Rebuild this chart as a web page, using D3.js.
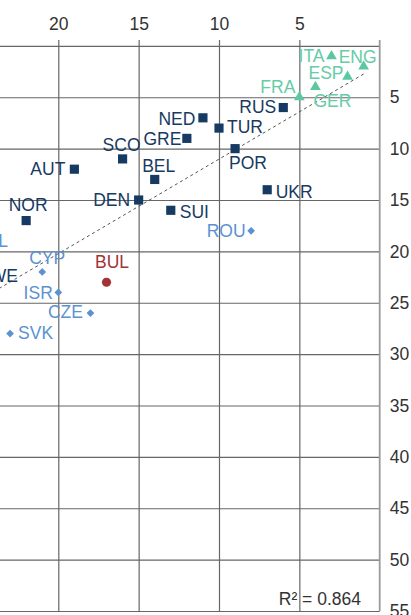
<!DOCTYPE html>
<html>
<head>
<meta charset="utf-8">
<script src="https://cdn.jsdelivr.net/npm/d3@7"></script>
<style>
  html, body { margin: 0; padding: 0; background: #fff; }
  svg { display: block; font-family: "Liberation Sans", Arial, Helvetica, sans-serif; }
</style>
</head>
<body>
<svg id="chart" width="411" height="615"></svg>
<script>
// Country codes, the two rankings, and which group each one belongs to
const codes  = ["ITA","ENG","ESP","GER","FRA","RUS","NED","TUR","GRE","POR","SCO","AUT","BEL","UKR","DEN","SUI","NOR","SWE","POL","ROU","CYP","BUL","ISR","CZE","SVK"];
const xRank  = [3, 1, 2, 4, 5, 6, 11, 10, 12, 9, 16, 19, 14, 7, 15, 13, 22, 24, 26, 8, 21, 17, 20, 18, 23];
const yRank  = [1, 2, 3, 4, 5, 6, 7, 8, 9, 10, 11, 12, 13, 14, 15, 16, 17, 21, 19, 18, 22, 23, 24, 26, 28];
const groups = ["top","top","top","top","top","mid","mid","mid","mid","mid","mid","mid","mid","mid","mid","mid","mid","mid","low","low","low","bul","low","low","low"];

// Axis ticks
const xTicks = [5, 10, 15, 20];
const yTicks = [0, 5, 10, 15, 20, 25, 30, 35, 40, 45, 50, 55];

// Fitted trend line: y = slope * x + intercept, over the ranked range
const trendSlope = 0.92;
const trendIntercept = 1.82;
const trendRange = [1, 30];
const rSquared = "0.864";

// Label placement: [dx, dy, anchor] relative to the marker centre
const labelPlace = {
  ITA: [-7, 0, "end"],   ENG: [-6, -10, "middle"], ESP: [-4, -4, "end"],
  GER: [-2, 14, "start"], FRA: [-4, -11, "end"],   RUS: [-7, -1, "end"],
  NED: [-7.5, 1, "end"], TUR: [8, -1, "start"],    GRE: [-5.5, 0, "end"],
  POR: [-6, 14, "start"], SCO: [-1, -14, "middle"], AUT: [-9, 0, "end"],
  BEL: [4, -13.5, "middle"], UKR: [8.5, 1.5, "start"], DEN: [-8.5, 0, "end"],
  SUI: [9, 1, "start"],  NOR: [2, -15.5, "middle"], SWE: [-16, 14, "start"],
  POL: [11, 0, "start"], ROU: [-5.5, 0, "end"],    CYP: [5, -14.5, "middle"],
  BUL: [5.5, -20.5, "middle"], ISR: [-5.5, 0, "end"], CZE: [-7.5, -1, "end"],
  SVK: [8, -1, "start"]
};

const colors = { top: "#5cc8a0", mid: "#173a62", low: "#5a92d2", bul: "#a23333" };

const data = codes.map((c, i) => ({ code: c, x: xRank[i], y: yRank[i], g: groups[i] }));

const svg = d3.select("#chart");
const x = d3.scaleLinear().domain([0, 20]).range([379.7, 58.3]);
const y = d3.scaleLinear().domain([0, 55]).range([45.9, 611]);

const gridColor = "#666";

// Top axis with vertical gridlines
const xAxis = svg.append("g")
  .attr("transform", "translate(0,40)")
  .call(d3.axisTop(x).tickValues(xTicks).tickSize(-(611 - 40)).tickPadding(10));
xAxis.select(".domain").remove();
xAxis.selectAll(".tick line").attr("stroke", gridColor).attr("stroke-width", 1.2);
xAxis.selectAll(".tick text").attr("fill", "#333").style("font-size", "17.5px")
  .style("font-family", "'Liberation Sans', Arial, sans-serif");

// Right axis with horizontal gridlines
const yAxis = svg.append("g")
  .attr("transform", `translate(${x(0)},0)`)
  .call(d3.axisRight(y).tickValues(yTicks).tickSize(-(x(0) + 20)).tickPadding(10)
    .tickFormat(d => d === 0 ? "" : d));
yAxis.select(".domain").remove();
yAxis.selectAll(".tick line").attr("stroke", gridColor).attr("stroke-width", 1.2);
yAxis.selectAll(".tick text").attr("fill", "#333").style("font-size", "17.5px")
  .style("font-family", "'Liberation Sans', Arial, sans-serif");

// Right frame line
svg.append("line")
  .attr("x1", x(0)).attr("x2", x(0))
  .attr("y1", 40).attr("y2", y(55))
  .attr("stroke", "#9a9a9a").attr("stroke-width", 1.8);

// Trend line
svg.append("line")
  .attr("x1", x(trendRange[0])).attr("y1", y(trendSlope * trendRange[0] + trendIntercept))
  .attr("x2", x(trendRange[1])).attr("y2", y(trendSlope * trendRange[1] + trendIntercept))
  .attr("stroke", "#555").attr("stroke-width", 1)
  .attr("stroke-dasharray", "3,3");

// Markers
const symbolFor = {
  top: d3.symbol().type(d3.symbolTriangle).size(50),
  mid: d3.symbol().type(d3.symbolSquare).size(84),
  low: d3.symbol().type(d3.symbolSquare).size(30),
  bul: d3.symbol().type(d3.symbolCircle).size(66)
};

svg.append("g").selectAll("path")
  .data(data).join("path")
  .attr("d", d => symbolFor[d.g]())
  .attr("transform", d => `translate(${x(d.x)},${y(d.y)})` + (d.g === "low" ? " rotate(45)" : ""))
  .attr("fill", d => colors[d.g]);

// Country labels
svg.append("g").selectAll("text")
  .data(data).join("text")
  .attr("x", d => x(d.x) + labelPlace[d.code][0])
  .attr("y", d => y(d.y) + labelPlace[d.code][1] + 6.3)
  .attr("text-anchor", d => labelPlace[d.code][2])
  .attr("fill", d => d.g === "top" ? "#66cca6" : colors[d.g])
  .style("font-size", "17.5px")
  .text(d => d.code);

// Goodness of fit
svg.append("text")
  .attr("x", 361).attr("y", 604.5)
  .attr("text-anchor", "end")
  .attr("fill", "#333")
  .style("font-size", "17.5px")
  .text("R² = " + rSquared);
</script>
</body>
</html>
